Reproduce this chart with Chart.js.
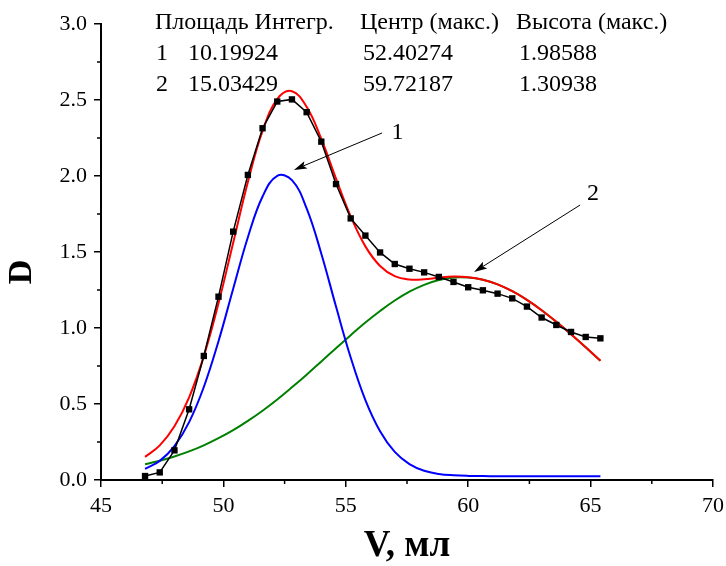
<!DOCTYPE html>
<html>
<head>
<meta charset="utf-8">
<script src="https://cdn.jsdelivr.net/npm/chart.js@4.4.1/dist/chart.umd.min.js"></script>
<style>
  html, body { margin: 0; padding: 0; background: #fff; }
  canvas { display: block; }
</style>
</head>
<body>
<canvas id="chart" width="726" height="566"></canvas>
<script>
// объём элюата, мл
const volumes = [46.8, 47.4, 48.0, 48.6, 49.2, 49.8, 50.4, 51.0, 51.6, 52.2, 52.8, 53.4, 54.0, 54.6, 55.2, 55.8,
                 56.4, 57.0, 57.6, 58.2, 58.8, 59.4, 60.0, 60.6, 61.2, 61.8, 62.4, 63.0, 63.6, 64.2, 64.8, 65.4];
// измеренная оптическая плотность
const measured = [0.026, 0.05, 0.195, 0.465, 0.816, 1.206, 1.634, 2.007, 2.314, 2.49, 2.504, 2.42, 2.226, 1.947, 1.721, 1.608,
                  1.497, 1.421, 1.39, 1.366, 1.336, 1.303, 1.268, 1.248, 1.226, 1.195, 1.141, 1.069, 1.02, 0.974, 0.941, 0.932];
// пик 1 (синий)
const peak1 = [0.073, 0.126, 0.223, 0.381, 0.612, 0.913, 1.258, 1.597, 1.865, 2.001, 1.973, 1.787, 1.489, 1.141, 0.806, 0.526,
               0.321, 0.185, 0.105, 0.061, 0.040, 0.031, 0.027, 0.026, 0.025, 0.025, 0.025, 0.025, 0.025, 0.025, 0.025, 0.025];
// пик 2 (зелёный)
const peak2 = [0.104, 0.127, 0.155, 0.188, 0.228, 0.275, 0.328, 0.389, 0.456, 0.530, 0.610, 0.693, 0.780, 0.867, 0.953, 1.036,
               1.112, 1.181, 1.239, 1.284, 1.316, 1.332, 1.332, 1.317, 1.287, 1.242, 1.185, 1.117, 1.041, 0.959, 0.873, 0.785];
// суммарная кривая (красная)
const cumulative = [0.152, 0.228, 0.353, 0.544, 0.815, 1.163, 1.561, 1.961, 2.296, 2.506, 2.558, 2.455, 2.244, 1.983, 1.734, 1.537,
                    1.408, 1.341, 1.319, 1.320, 1.331, 1.338, 1.334, 1.318, 1.287, 1.242, 1.185, 1.117, 1.041, 0.959, 0.873, 0.785];

const tableHeader = ["Площадь Интегр.", "Центр (макс.)", "Высота (макс.)"];
const tableRows = [
  ["1", "10.19924", "52.40274", "1.98588"],
  ["2", "15.03429", "59.72187", "1.30938"]
];

// стрелки к пикам, в координатах данных
const arrows = [
  { text: "1", label: [57.11, 2.283], tail: [56.48, 2.283], tip: [52.88, 2.04] },
  { text: "2", label: [65.1, 1.882], tail: [64.57, 1.809], tip: [60.24, 1.368] }
];

const FONT = '"Liberation Serif", "Times New Roman", serif';

const pts = arr => volumes.map((v, i) => ({ x: v, y: arr[i] }));

function drawArrow(ctx, x0, y0, x1, y1) {
  const a = Math.atan2(y1 - y0, x1 - x0);
  const len = 13, half = 4;
  const c = Math.cos(a), s = Math.sin(a);
  ctx.beginPath();
  ctx.moveTo(x0, y0);
  ctx.lineTo(x1 - c * len * 0.8, y1 - s * len * 0.8);
  ctx.stroke();
  ctx.beginPath();
  ctx.moveTo(x1, y1);
  ctx.lineTo(x1 - c * len - s * half, y1 - s * len + c * half);
  ctx.lineTo(x1 - c * len * 0.8, y1 - s * len * 0.8);
  ctx.lineTo(x1 - c * len + s * half, y1 - s * len - c * half);
  ctx.closePath();
  ctx.fill();
}

const extras = {
  id: "extras",
  afterDraw(chart) {
    const { ctx, scales: { x, y } } = chart;
    ctx.save();
    ctx.strokeStyle = "#000";
    ctx.fillStyle = "#000";

    // малые деления
    ctx.lineWidth = 1.5;
    for (let v = 0.25; v < 3; v += 0.5) {
      const py = y.getPixelForValue(v);
      ctx.beginPath(); ctx.moveTo(x.left, py); ctx.lineTo(x.left - 4, py); ctx.stroke();
    }
    for (let v = 47.5; v < 70; v += 5) {
      const px = x.getPixelForValue(v);
      ctx.beginPath(); ctx.moveTo(px, y.bottom); ctx.lineTo(px, y.bottom + 4); ctx.stroke();
    }

    // подпись оси D
    ctx.save();
    ctx.translate(22, 272);
    ctx.rotate(-Math.PI / 2);
    ctx.font = "bold 34px " + FONT;
    ctx.textAlign = "center";
    ctx.textBaseline = "middle";
    ctx.fillText("D", 0, 0);
    ctx.restore();

    // таблица параметров пиков
    ctx.font = "24px " + FONT;
    ctx.textBaseline = "middle";
    ctx.textAlign = "left";
    const colX = [155, 360, 516];
    tableHeader.forEach((t, i) => ctx.fillText(t, colX[i], 23));
    tableRows.forEach((row, r) => {
      const ry = 54 + r * 31;
      ctx.fillText(row[0], 156, ry);
      ctx.fillText(row[1], 188, ry);
      ctx.fillText(row[2], 363, ry);
      ctx.fillText(row[3], 519, ry);
    });

    // стрелки
    ctx.lineWidth = 1;
    ctx.font = "24px " + FONT;
    ctx.textAlign = "center";
    for (const a of arrows) {
      drawArrow(ctx, x.getPixelForValue(a.tail[0]), y.getPixelForValue(a.tail[1]),
                x.getPixelForValue(a.tip[0]), y.getPixelForValue(a.tip[1]));
      ctx.fillText(a.text, x.getPixelForValue(a.label[0]), y.getPixelForValue(a.label[1]));
    }
    ctx.restore();
  }
};

new Chart(document.getElementById("chart"), {
  type: "line",
  data: {
    datasets: [
      {
        label: "Эксперимент",
        data: pts(measured),
        borderColor: "#000",
        backgroundColor: "#000",
        borderWidth: 1.5,
        pointStyle: "rect",
        pointRadius: 4.5,
        pointBorderWidth: 0,
        tension: 0
      },
      { label: "Сумма", data: pts(cumulative), borderColor: "#ff0000", borderWidth: 2, pointRadius: 0, tension: 0.4 },
      { label: "Пик 1", data: pts(peak1), borderColor: "#0000ff", borderWidth: 2, pointRadius: 0, tension: 0.4 },
      { label: "Пик 2", data: pts(peak2), borderColor: "#008000", borderWidth: 2, pointRadius: 0, tension: 0.4 }
    ]
  },
  options: {
    responsive: false,
    animation: false,
    layout: { padding: { top: 24, right: 13, bottom: 0, left: 0 } },
    plugins: { legend: { display: false }, tooltip: { enabled: false } },
    scales: {
      x: {
        type: "linear",
        min: 45,
        max: 70,
        ticks: { stepSize: 5, color: "#000", font: { size: 22, family: FONT }, padding: 6, maxRotation: 0 },
        grid: { drawOnChartArea: false, tickLength: 7, color: "#000", lineWidth: 1.5 },
        border: { color: "#000", width: 2 },
        title: { display: true, text: "V, мл", color: "#000", font: { size: 37, weight: "bold", family: FONT, lineHeight: 1.05 }, padding: { top: 0, bottom: 0 } },
        afterFit(s) { s.height = 86; s.paddingLeft = 0; s.paddingRight = 0; }
      },
      y: {
        min: 0,
        max: 3,
        ticks: { stepSize: 0.5, color: "#000", font: { size: 22, family: FONT }, padding: 7, callback: v => Number(v).toFixed(1) },
        grid: { drawOnChartArea: false, tickLength: 7, color: "#000", lineWidth: 1.5 },
        border: { color: "#000", width: 2 },
        afterFit(s) { s.width = 101; }
      }
    }
  },
  plugins: [extras]
});
</script>
</body>
</html>
